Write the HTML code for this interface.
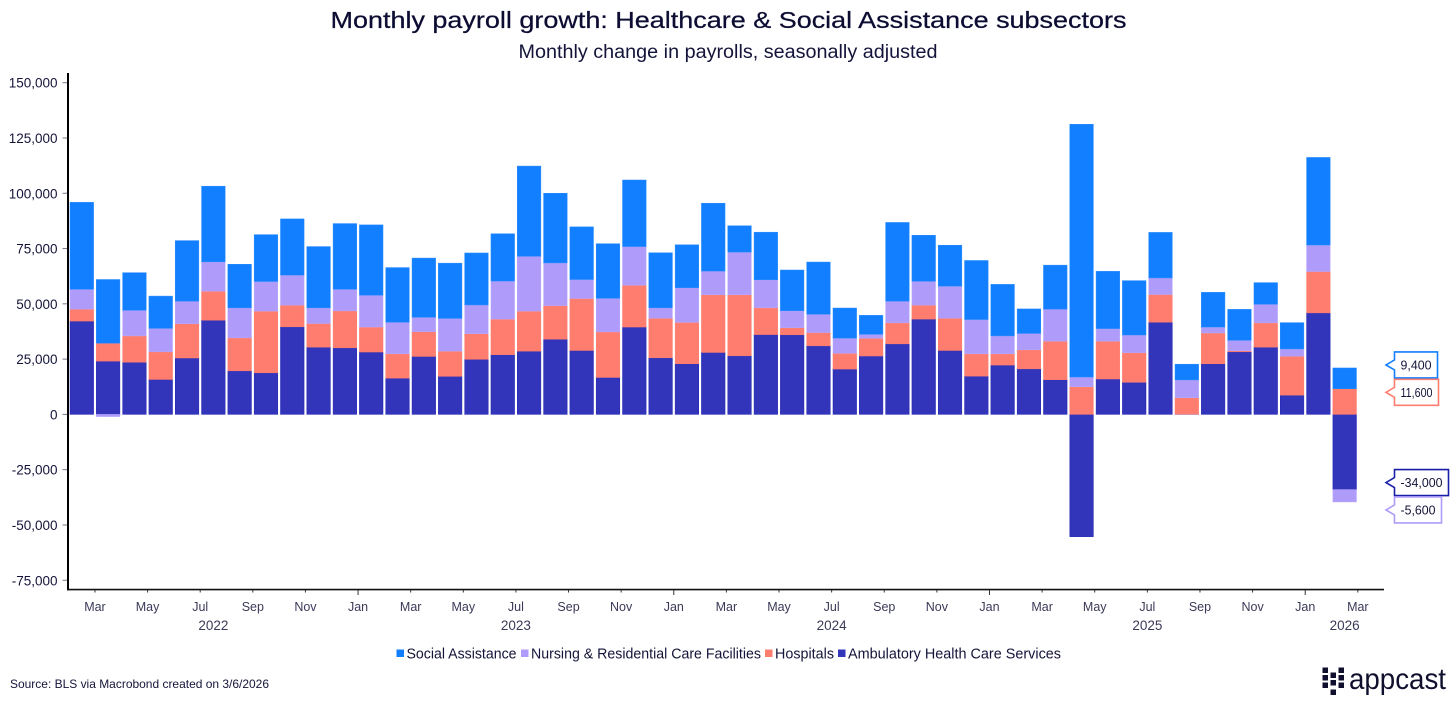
<!DOCTYPE html>
<html lang="en">
<head>
<meta charset="utf-8">
<title>Monthly payroll growth: Healthcare &amp; Social Assistance subsectors</title>
<style>
html,body{margin:0;padding:0;background:#fff;width:1456px;height:702px;overflow:hidden}
svg{display:block;font-family:"Liberation Sans",sans-serif}
</style>
</head>
<body>
<svg id="chart" xmlns="http://www.w3.org/2000/svg" width="1456" height="702" viewBox="0 0 1456 702">
  <text x="728.5" y="28" text-anchor="middle" font-size="23" fill="#0d0d33" stroke="#0d0d33" stroke-width="0.25" textLength="796" lengthAdjust="spacingAndGlyphs">Monthly payroll growth: Healthcare &amp; Social Assistance subsectors</text>
  <text x="728" y="58" text-anchor="middle" font-size="19" fill="#14143a" textLength="419" lengthAdjust="spacingAndGlyphs">Monthly change in payrolls, seasonally adjusted</text>
  <g id="bars"></g>
  <g id="axes"></g>
  <g id="callouts"></g>
  <g id="legend"></g>
  <text x="10" y="688" font-size="12" fill="#14143a" textLength="259" lengthAdjust="spacingAndGlyphs">Source: BLS via Macrobond created on 3/6/2026</text>
  <g>
    <g fill="#10102e">
      <rect x="1322.5" y="667.5" width="5.5" height="5.5"/><rect x="1338.5" y="667.5" width="5.5" height="5.5"/>
      <rect x="1322.5" y="675" width="5.5" height="5.5"/><rect x="1330.5" y="672.5" width="5.5" height="5.5"/><rect x="1338.5" y="675" width="5.5" height="5.5"/>
      <rect x="1322.5" y="682.5" width="5.5" height="5.5"/><rect x="1330.5" y="680" width="5.5" height="5.5"/><rect x="1338.5" y="682.5" width="5.5" height="5.5"/>
      <rect x="1330.5" y="689.5" width="5.5" height="5.5"/>
    </g>
    <text x="1349" y="689" font-size="30" fill="#10102e" textLength="97" lengthAdjust="spacingAndGlyphs">appcast</text>
  </g>
</svg>
<script>
const ambulatory = [42200,24100,23600,15800,25500,42600,19700,18800,39600,30400,30100,28200,16400,26200,17200,24900,27000,28600,34000,28900,16700,39500,25600,22900,28000,26500,36100,36000,31000,20500,26400,31900,43100,28900,17300,22300,20600,15700,-55300,16000,14500,41700,100,22900,28300,30400,8700,45900,-34000];
const hospitals = [5400,8100,11900,12500,15500,13100,14900,27900,9800,10700,16700,11300,11000,11200,11400,11600,16100,18100,15200,23500,20600,18900,17900,18700,26100,27600,12100,3200,6000,7100,8000,9500,6300,14600,10100,5100,8600,17400,12500,17100,13400,12500,7400,13900,500,11000,17600,18700,11600];
const nursing = [9000,-1000,11600,10600,10200,13300,13600,13400,13600,7100,9800,14400,14300,6500,14800,13000,17200,24800,19300,8600,15200,17500,4700,15700,10700,19300,12700,7700,8300,6900,1800,9800,10800,14500,15500,8100,7400,14500,4400,5700,8000,7500,8100,2700,4700,8400,3300,12000,-5600];
const social = [39300,28800,17000,14600,27400,34200,19700,21200,25400,27700,29700,31800,24700,26800,25000,23500,21400,40800,31500,23800,24700,30100,24900,19400,30700,11900,21500,18400,23600,13600,8600,35600,20800,18500,26700,23300,11100,19900,114300,25900,24600,20600,7100,15700,14000,9800,11900,39600,9400];
const yTicks = [150000,125000,100000,75000,50000,25000,0,-25000,-50000,-75000];
const monthLabels = ['Mar','May','Jul','Sep','Nov','Jan','Mar','May','Jul','Sep','Nov','Jan','Mar','May','Jul','Sep','Nov','Jan','Mar','May','Jul','Sep','Nov','Jan','Mar'];
const yearLabels = ['2022','2023','2024','2025','2026'];
const yearStartBars = [0,11,23,35,47];
const seriesNames = ['Social Assistance','Nursing & Residential Care Facilities','Hospitals','Ambulatory Health Care Services'];

const NS = 'http://www.w3.org/2000/svg';
const COLORS = {social:'#117fff', nursing:'#af9cfa', hospitals:'#ff7d6e', ambulatory:'#3235ba'};
const EDGE = {social:'#2a8cff', nursing:'#bbaafc', hospitals:'#ff7d6e', ambulatory:'#2226b4'};
const LEFT = 70, PITCH = 26.31, BARW = 23.6, AXIS_END = 1384;
const Y0 = 414.4, PXPER = 331.7 / 150000;

function yScale(v){ return Y0 - v * PXPER; }
function xBand(i){ return LEFT + i * PITCH; }
function xTick(i){ return xBand(2 * i + 1) - (PITCH - BARW) / 2; }
function fmt(v){ return v.toString().replace(/\B(?=(\d{3})+$)/g, ','); }
function make(tag, attrs, parent, txt){
  const el = document.createElementNS(NS, tag);
  for (const k in attrs) el.setAttribute(k, attrs[k]);
  if (txt !== undefined) el.textContent = txt;
  parent.appendChild(el);
  return el;
}
/* approximate box width: the reference face has a narrow "1" */
function calloutWidth(s){
  let w = 13;
  for (const ch of s) w += ch === '1' ? 4 : ch === ',' ? 2 : ch === '-' ? 4 : 7;
  return w;
}

const gBars = document.getElementById('bars');
const gAxes = document.getElementById('axes');
const gCall = document.getElementById('callouts');
const gLeg = document.getElementById('legend');

/* stacked bars: positive values stack upward, negative values stack downward */
const stackOrder = [['ambulatory', ambulatory], ['hospitals', hospitals], ['nursing', nursing], ['social', social]];
const lastEdges = {};
ambulatory.forEach(function(_, i){
  let up = 0, down = 0;
  stackOrder.forEach(function(s){
    const key = s[0], v = s[1][i];
    let from, to;
    if (v >= 0) { from = up; to = up + v; up = to; }
    else { from = down; to = down + v; down = to; }
    const top = Math.min(yScale(from), yScale(to));
    const h = Math.abs(yScale(from) - yScale(to));
    const r = make('rect', {x: xBand(i), y: top, width: BARW, height: h, fill: COLORS[key], stroke: EDGE[key], 'stroke-width': 0.5}, gBars);
    
    
    if (i === ambulatory.length - 1) lastEdges[key] = yScale(to);
  });
});

/* y axis */
yTicks.forEach(function(v){
  const y = yScale(v);
  const t = make('line', {x1: 62.5, x2: 67.5, y1: y, y2: y, stroke: '#77778a', 'stroke-width': 1}, gAxes);
  
  
  const l = make('text', {x: 57.5, y: y + 5, 'text-anchor': 'end', 'font-size': 13.5, fill: '#14143a'}, gAxes, fmt(v));
  
  
});
const yLine = make('line', {x1: 68, x2: 68, y1: 73, y2: 590.5, stroke: '#000', 'stroke-width': 2}, gAxes);



/* x axis */
const xLine = make('line', {x1: 67, x2: AXIS_END, y1: 589.6, y2: 589.6, stroke: '#111', 'stroke-width': 1.6}, gAxes);


monthLabels.forEach(function(m, i){
  const x = xTick(i);
  const t = make('line', {x1: x, x2: x, y1: 590, y2: m === 'Jan' ? 595 : 592.5, stroke: '#333', 'stroke-width': 1}, gAxes);
  
  
  const l = make('text', {x: x, y: 611, 'text-anchor': 'middle', 'font-size': 12.5, fill: '#3a3a58'}, gAxes, m);
  
  
});
yearLabels.forEach(function(yr, i){
  const a = xBand(yearStartBars[i]) - 1.35;
  const b = i + 1 < yearStartBars.length ? xBand(yearStartBars[i + 1]) - 1.35 : AXIS_END;
  const l = make('text', {x: (a + b) / 2, y: 630, 'text-anchor': 'middle', 'font-size': 13.5, fill: '#3a3a58'}, gAxes, yr);
  
  
});

/* callouts on the latest values */
const last = ambulatory.length - 1;
const calloutDefs = [
  {key:'social',     v: social[last],     color:'#117fff', nudge:-3},
  {key:'hospitals',  v: hospitals[last],  color:'#ff7d6e', nudge:3.6},
  {key:'ambulatory', v: ambulatory[last], color:'#1a1fa8', nudge:-7},
  {key:'nursing',    v: nursing[last],    color:'#af9cfa', nudge:8}
];
calloutDefs.forEach(function(c){
  const cy = lastEdges[c.key] + c.nudge;
  const txt = (c.v < 0 ? '-' : '') + fmt(Math.abs(c.v));
  const x0 = 1394.5, w = calloutWidth(txt), h = 26, top = cy - 13;
  const g = make('g', {}, gCall);
  
  
  const d = 'M' + x0 + ' ' + top + 'H' + (x0 + w) + 'V' + (top + h) + 'H' + x0 +
            'V' + (cy + 5) + 'L' + (x0 - 8.5) + ' ' + cy + 'L' + x0 + ' ' + (cy - 5) + 'Z';
  const p = make('path', {d: d, fill: '#fff', stroke: c.color, 'stroke-width': 1.6}, g);
  
  
  const t = make('text', {x: x0 + 6, y: cy + 4.5, 'font-size': 12.5, fill: '#14143a', textLength: w - 12, lengthAdjust: 'spacingAndGlyphs'}, g, txt);
  
  
});

/* legend */
const legendColors = [COLORS.social, COLORS.nursing, COLORS.hospitals, COLORS.ambulatory];
const legendSwatchX = [396.5, 521, 765, 838];
const legendTextLen = [110, 230, 59, 213];
seriesNames.forEach(function(name, i){
  const g = make('g', {}, gLeg);
  
  
  const s = make('rect', {x: legendSwatchX[i], y: 649.5, width: 7.5, height: 7.5, fill: legendColors[i]}, g);
  
  
  const t = make('text', {x: legendSwatchX[i] + 10, y: 658.5, 'font-size': 15, fill: '#14143a', textLength: legendTextLen[i], lengthAdjust: 'spacingAndGlyphs'}, g, name);
  
  
});
</script>
</body>
</html>
